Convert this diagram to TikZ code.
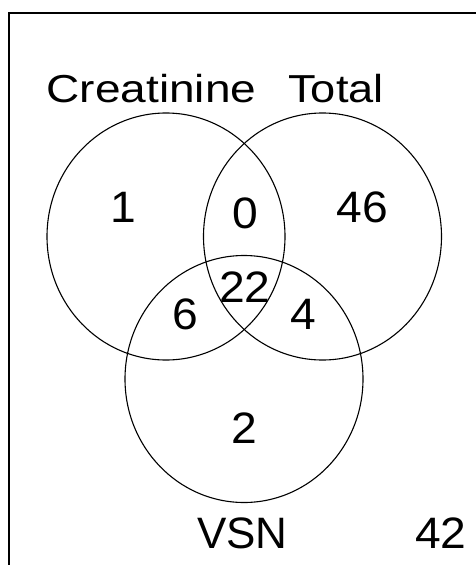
\documentclass[tikz,border=0pt]{standalone}
\usepackage{fontspec}
\setmainfont{Liberation Sans}
\begin{document}
\begin{tikzpicture}[x=1pt,y=-1pt,
  lbl/.style={inner sep=0pt,anchor=base,font=\fontsize{39}{46}\selectfont},
  num/.style={inner sep=0pt,anchor=base,font=\fontsize{44}{52}\selectfont},
  setline/.style={line width=1.1pt}]
\clip (0,0) rectangle (476,565);
\fill[white] (0,0) rectangle (476,565);
\draw[line width=1.4pt] (9,600) -- (9,13) -- (500,13);
\coordinate (cc) at (166,236.5);
\coordinate (tc) at (322.5,236.5);
\coordinate (vc) at (244,379);
\draw[setline] (cc) ellipse [x radius=119, y radius=123.5];
\draw[setline] (tc) ellipse [x radius=119, y radius=123.5];
\draw[setline] (vc) ellipse [x radius=119, y radius=123.5];
\node[lbl] (creat) at (151.5,102) {\scalebox{1.18}[1]{Creatinine}};
\node[lbl] (total) at (336,102) {\scalebox{1.16}[1]{Total}};
\node[num] (vsn) at (242.5,548) {VSN};
\node[num] (n1) at (123,222) {\scalebox{1.05}[1]{1}};
\node[num] (n46) at (362.5,222) {\scalebox{1.05}[1]{46}};
\node[num] (n0) at (245,228) {\scalebox{1.05}[1]{0}};
\node[num] (n22) at (245,302) {\scalebox{1.05}[1]{22}};
\node[num] (n6) at (185,329) {\scalebox{1.05}[1]{6}};
\node[num] (n4) at (303.5,329) {\scalebox{1.05}[1]{4}};
\node[num] (n2) at (244,443) {\scalebox{1.05}[1]{2}};
\node[num] (n42) at (441,548) {\scalebox{1.05}[1]{42}};
\end{tikzpicture}
\end{document}
